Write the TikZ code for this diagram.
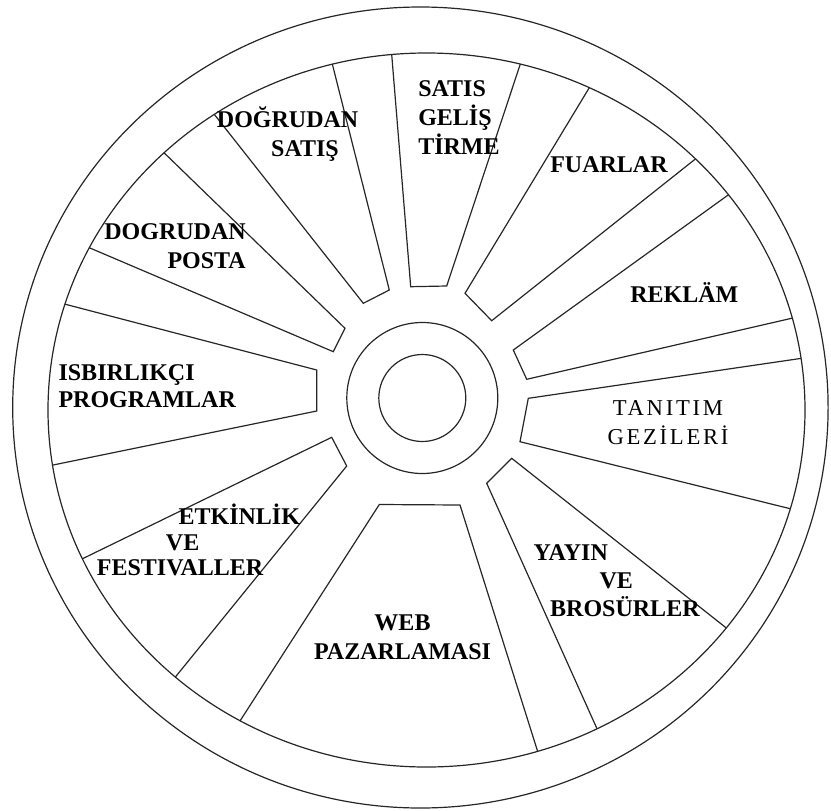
\documentclass[tikz,border=0pt]{standalone}
\usepackage{fontspec}
\setmainfont{Liberation Serif}

\begin{document}
\begin{tikzpicture}[x=0.75pt,y=-0.75pt,
    rim/.style={draw=black!85,line width=0.9pt},
    spoke/.style={draw=black!85,line width=0.9pt,line join=miter},
    lbl/.style={font=\fontsize{18}{21.75}\selectfont\bfseries,inner sep=0pt},
    lblthin/.style={font=\fontsize{17}{21.75}\selectfont\addfontfeatures{LetterSpace=12},inner sep=0pt}]

\useasboundingbox (0,0) rectangle (831,810);

% Wheel centres
\coordinate (rim) at (420.4,407.5);
\coordinate (ring) at (426.5,410);
\coordinate (hub) at (422.3,398);

% Segments, cut off at the ring
\begin{scope}
\clip (ring) ellipse [x radius=378.5, y radius=357];
\draw[spoke] (390.6,41.1) -- (410.7,286.7) -- (446.7,286) -- (524.4,51.7);
\draw[spoke] (595.7,77.1) -- (465,293.3) -- (491.7,320.7) -- (707.2,149.6);
\draw[spoke] (739.5,186.8) -- (513.3,350) -- (526.7,379.3) -- (807.6,314.6);
\draw[spoke] (818.1,355.9) -- (528.3,398.3) -- (520,441.7) -- (809.1,513.4);
\draw[spoke] (739.6,638.5) -- (511.7,458.3) -- (486.7,483.3) -- (603.9,744.1);
\draw[spoke] (542.4,766.5) -- (460,505) -- (379.3,504.5) -- (231.6,734);
\draw[spoke] (165.4,689.3) -- (346.7,466) -- (331.7,437.3) -- (68.4,565.6);
\draw[spoke] (37.5,468.2) -- (316.7,411) -- (316.7,370) -- (50.6,300.4);
\draw[spoke] (76.1,242.1) -- (333.3,351.7) -- (345,328.3) -- (154.9,143.9);
\draw[spoke] (205.4,103.1) -- (363.3,303.3) -- (389.3,290) -- (329.6,53.3);
\end{scope}

% Rim and hub
\draw[rim] (rim) ellipse [x radius=407.7, y radius=400.5];
\draw[rim] (ring) ellipse [x radius=378.5, y radius=357];
\draw[rim] (hub) circle [radius=75.5];
\draw[rim] (hub) circle [radius=43.5];

% Labels (base = last line)
\node[lbl,align=left,anchor=base west] (satis) at (418,154) {SATIS\\GELİŞ\\TİRME};
\node[lbl,align=left,anchor=base west] (dsatis) at (216.7,156) {DOĞRUDAN\\\hspace*{40.7pt}SATIŞ};
\node[lbl,align=right,anchor=base east] (posta) at (246,268.3) {DOGRUDAN\\POSTA};
\node[lbl,anchor=base west] (fuar) at (550,172.3) {FUARLAR};
\node[lbl,anchor=base west] (reklam) at (630,302.7) {REKLÄM};
\node[lblthin,align=center,anchor=base] (tanitim) at (668,444) {TANITIM\\GEZİLERİ};
\node[lbl,align=left,anchor=base west] (yayin) at (533.3,616) {YAYIN\\[-0.75pt]\hspace*{49.5pt}VE\\[-0.75pt]\hspace*{12.5pt}BROSÜRLER};
\node[lbl,align=center,anchor=base] (web) at (402.5,659.3) {WEB\\PAZARLAMASI};
\node[lbl,align=left,anchor=base west] (etkin) at (96.7,575.7) {\hspace*{61.2pt}ETKİNLİK\\[-2.5pt]\hspace*{51.75pt}VE\\[-2.5pt]FESTIVALLER};
\node[lbl,align=left,anchor=base west] (isbir) at (58.3,407.3) {ISBIRLIKÇI\\[-1.5pt]PROGRAMLAR};

\end{tikzpicture}
\end{document}
